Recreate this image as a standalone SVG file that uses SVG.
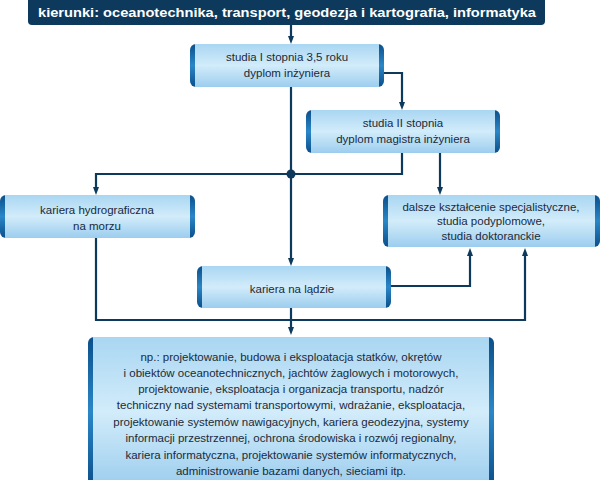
<svg xmlns="http://www.w3.org/2000/svg" width="600" height="480" viewBox="0 0 600 480">
<defs>
<linearGradient id="body" x1="0" y1="0" x2="0" y2="1">
<stop offset="0" stop-color="#a9d6f2"/><stop offset="0.5" stop-color="#d2ecfa"/><stop offset="1" stop-color="#9ccdee"/>
</linearGradient>
<linearGradient id="cap" x1="0" y1="0" x2="0" y2="1">
<stop offset="0" stop-color="#0b4f8a"/><stop offset="0.5" stop-color="#2a87c8"/><stop offset="1" stop-color="#0b4f8a"/>
</linearGradient>
<marker id="ah" markerWidth="8" markerHeight="8" refX="4" refY="4" orient="auto" markerUnits="userSpaceOnUse">
<path d="M0,1 L8,4 L0,7 Z" fill="#0d3a5c"/>
</marker>
<style>
.cap{fill:url(#cap)}
.body{fill:url(#body)}
.t{font-family:"Liberation Sans",Arial,sans-serif;font-size:11.5px;fill:#1b2a3a;text-anchor:middle}
.c{fill:none;stroke:#0d3a5c;stroke-width:2.2}
</style>
</defs>
<rect width="600" height="480" fill="#fff"/>
<g id="title">
<rect x="28" y="-6" width="517" height="31" rx="4" fill="#0d3a5c"/>
<text x="287" y="17" font-family="Liberation Sans,Arial,sans-serif" font-weight="bold" font-size="13.5" fill="#fff" text-anchor="middle" textLength="498" lengthAdjust="spacingAndGlyphs">kierunki: oceanotechnika, transport, geodezja i kartografia, informatyka</text>
</g>
<g id="connectors">
<path class="c" d="M291,25 V40" marker-end="url(#ah)"/>
<path class="c" d="M384,73 H402 V106" marker-end="url(#ah)"/>
<path class="c" d="M291,87 V262" marker-end="url(#ah)"/>
<path class="c" d="M402,153 V174 H96 V191" marker-end="url(#ah)"/>
<circle cx="291" cy="174" r="4.5" fill="#0d3a5c"/>
<path class="c" d="M440,153 V191" marker-end="url(#ah)"/>
<path class="c" d="M391,286 H470 V252" marker-end="url(#ah)"/>
<path class="c" d="M96,238 V320 H525 V252" marker-end="url(#ah)"/>
<path class="c" d="M291,308 V331" marker-end="url(#ah)"/>
</g>
<g id="n1">
<rect class="cap" x="190" y="44" width="194" height="43" rx="6"/>
<rect class="body" x="195" y="44" width="184" height="43"/>
<text class="t" x="287" y="61">studia I stopnia 3,5 roku</text>
<text class="t" x="287" y="77">dyplom inżyniera</text>
</g>
<g id="n2">
<rect class="cap" x="306" y="110" width="194" height="43" rx="6"/>
<rect class="body" x="311" y="110" width="184" height="43"/>
<text class="t" x="403" y="127">studia II stopnia</text>
<text class="t" x="403" y="143">dyplom magistra inżyniera</text>
</g>
<g id="n3">
<rect class="cap" x="0" y="195" width="195" height="43" rx="6"/>
<rect class="body" x="5" y="195" width="185" height="43"/>
<text class="t" x="97" y="214">kariera hydrograficzna</text>
<text class="t" x="97" y="230">na morzu</text>
</g>
<g id="n4">
<rect class="cap" x="383" y="195" width="217" height="52" rx="6"/>
<rect class="body" x="388" y="195" width="207" height="52"/>
<text class="t" x="491" y="211">dalsze kształcenie specjalistyczne,</text>
<text class="t" x="491" y="225">studia podyplomowe,</text>
<text class="t" x="491" y="240">studia doktoranckie</text>
</g>
<g id="n5">
<rect class="cap" x="197" y="266" width="194" height="42" rx="6"/>
<rect class="body" x="202" y="266" width="184" height="42"/>
<text class="t" x="292" y="293">kariera na lądzie</text>
</g>
<g id="n6">
<rect class="cap" x="88" y="337" width="406" height="150" rx="6"/>
<rect class="body" x="93" y="337" width="396" height="150"/>
<text class="t" x="291" y="361">np.: projektowanie, budowa i eksploatacja statków, okrętów</text>
<text class="t" x="291" y="377">i obiektów oceanotechnicznych, jachtów żaglowych i motorowych,</text>
<text class="t" x="291" y="393">projektowanie, eksploatacja i organizacja transportu, nadzór</text>
<text class="t" x="291" y="409">techniczny nad systemami transportowymi, wdrażanie, eksploatacja,</text>
<text class="t" x="291" y="426">projektowanie systemów nawigacyjnych, kariera geodezyjna, systemy</text>
<text class="t" x="291" y="442">informacji przestrzennej, ochrona środowiska i rozwój regionalny,</text>
<text class="t" x="291" y="459">kariera informatyczna, projektowanie systemów informatycznych,</text>
<text class="t" x="291" y="475">administrowanie bazami danych, sieciami itp.</text>
</g>
</svg>
